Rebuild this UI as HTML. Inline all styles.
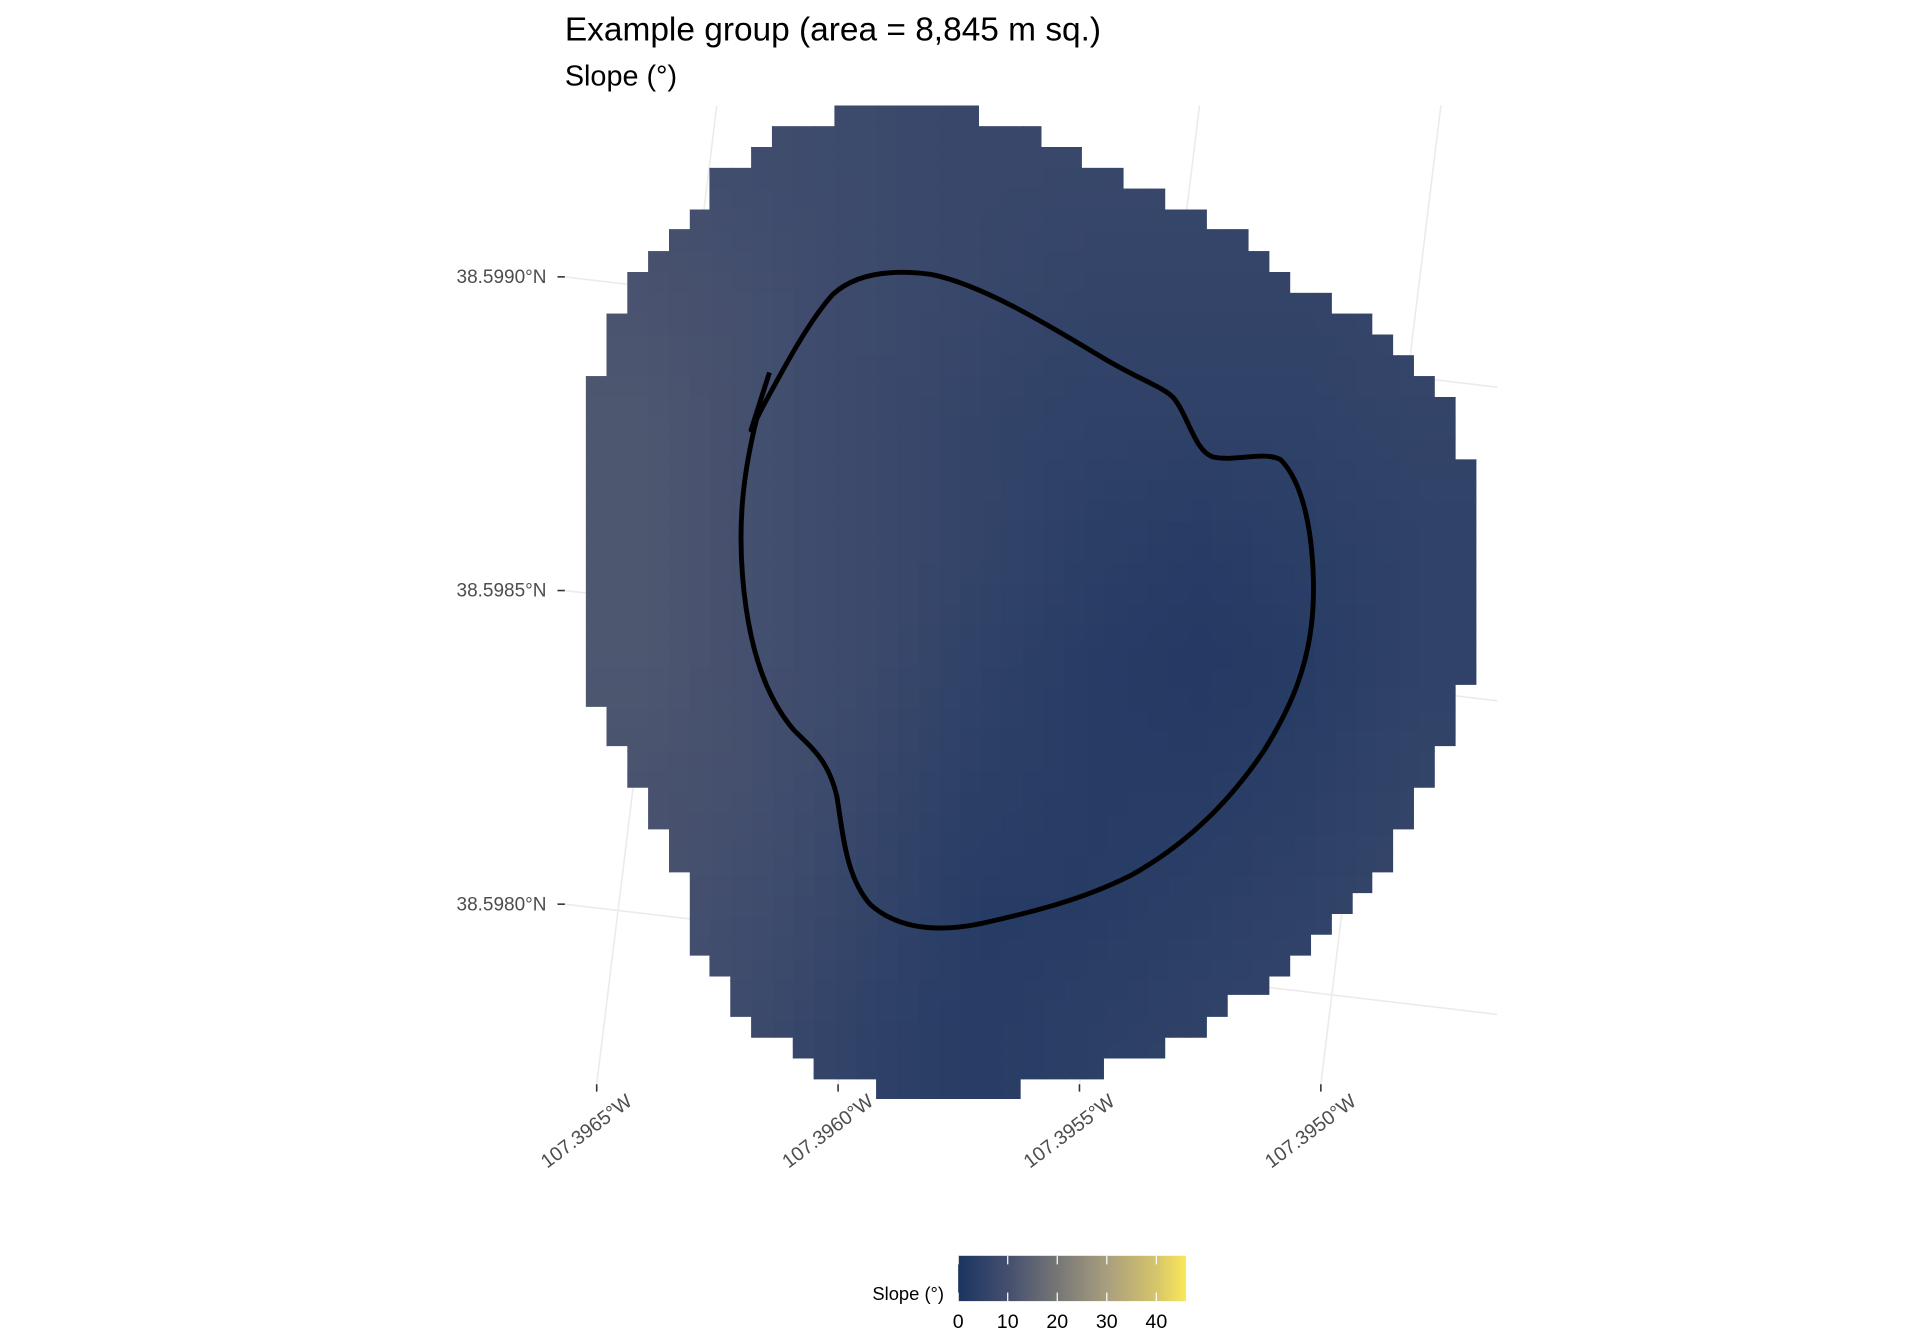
<!DOCTYPE html>
<html><head><meta charset="utf-8">
<style>
html,body{margin:0;padding:0;background:#fff;}
svg{display:block;}
text{font-family:"Liberation Sans",Arial,sans-serif;}
</style></head>
<body>
<svg id="chart" width="1920" height="1344" viewBox="0 0 1567 1097" preserveAspectRatio="none" xmlns="http://www.w3.org/2000/svg">
<defs>
  <clipPath id="rasterClip"><polygon id="outlinePoly" points=""/></clipPath>
  <linearGradient id="cbar" x1="0" x2="1" y1="0" y2="0">
    <stop offset="0" stop-color="#1b3461"/>
    <stop offset="0.217" stop-color="#444f6e"/>
    <stop offset="0.435" stop-color="#767676"/>
    <stop offset="0.652" stop-color="#a89e7e"/>
    <stop offset="0.87" stop-color="#d6c56a"/>
    <stop offset="1" stop-color="#fbe85a"/>
  </linearGradient>
</defs>
<g id="grid"></g>
<g id="raster" clip-path="url(#rasterClip)"><g id="cells"></g></g>
<path id="boundary" fill="none" stroke="#000" stroke-width="4" stroke-linejoin="round"
 d="M628,304 L613,351 L622,333 C640,300 660,262 680,240 C700,222 730,220 760,224 C800,232 850,262 900,292 C930,310 950,316 958,325 C970,340 975,368 990,373 C1010,377 1030,368 1045,375 C1065,395 1072,440 1072,482 C1072,540 1052,580 1032,612 C1000,660 962,693 922,715 C882,735 840,745 800,754 C760,762 730,756 710,738 C690,715 688,680 683,650 C676,620 662,610 648,596 C622,566 610,520 606,470 C602,420 608,380 618,340"/>
<g id="axes"></g>
<text x="461" y="33" font-size="27.3" fill="#000">Example group (area = 8,845 m sq.)</text>
<text x="461" y="70" font-size="23.5" fill="#000">Slope (°)</text>
<g id="legend"></g>
</svg>
<script>
// ---- data ----
const latTicks = ["38.5990°N","38.5985°N","38.5980°N"];
const latTickY = [226, 482, 738];
const lonTicks = ["107.3965°W","107.3960°W","107.3955°W","107.3950°W"];
const lonTickX = [487, 684, 881, 1078];
const legendTicks = [0, 10, 20, 30, 40];
const legendMax = 46;
// slope values (degrees) on coarse grid, rows top->bottom, cols left->right
const slopeRow0 = [10, 9, 8, 7, 7, 7, 7, 7];
const slopeRow1 = [11, 10, 8, 7, 6, 6, 6, 7];
const slopeRow2 = [12, 10, 8, 6, 5, 5, 5, 6];
const slopeRow3 = [12, 10, 8, 6, 4, 3, 4, 5];
const slopeRow4 = [12, 10, 8, 5, 3, 2, 3, 5];
const slopeRow5 = [11, 10, 7, 4, 3, 3, 4, 6];
const slopeRow6 = [11, 9, 6, 3, 3, 4, 5, 7];
const slopeRow7 = [10, 8, 5, 3, 4, 5, 6, 7];
const slopeRows = [slopeRow0,slopeRow1,slopeRow2,slopeRow3,slopeRow4,slopeRow5,slopeRow6,slopeRow7];

const NS="http://www.w3.org/2000/svg";
function mk(tag, attrs, parent){const e=document.createElementNS(NS,tag);for(const k in attrs)e.setAttribute(k,attrs[k]);parent.appendChild(e);return e;}

// raster extent & scales
const rx0=478, rx1=1205, ry0=86, ry1=897;
const nC=slopeRows[0].length, nR=slopeRows.length;
const cw=(rx1-rx0)/nC, ch=(ry1-ry0)/nR;
const stops=[[0,[27,52,97]],[10,[68,79,110]],[20,[118,118,118]],[30,[168,158,126]],[40,[214,197,106]],[46,[251,232,90]]];
function color(v){
  for(let i=0;i<stops.length-1;i++){const a=stops[i],b=stops[i+1];
    if(v<=b[0]){const t=(v-a[0])/(b[0]-a[0]);const c=a[1].map((x,k)=>Math.round(x+(b[1][k]-x)*t));return `rgb(${c[0]},${c[1]},${c[2]})`;}}
  return 'rgb(251,232,90)';
}
// display shading: sample coarse slope grid (bilinear for rendering only)
function sample(x,y){
  let fx=(x-rx0)/cw-0.5, fy=(y-ry0)/ch-0.5;
  fx=Math.max(0,Math.min(nC-1,fx)); fy=Math.max(0,Math.min(nR-1,fy));
  const i0=Math.floor(fx), j0=Math.floor(fy), i1=Math.min(nC-1,i0+1), j1=Math.min(nR-1,j0+1);
  const tx=fx-i0, ty=fy-j0;
  const a=slopeRows[j0][i0]*(1-tx)+slopeRows[j0][i1]*tx;
  const b=slopeRows[j1][i0]*(1-tx)+slopeRows[j1][i1]*tx;
  return a*(1-ty)+b*ty;
}
const cells=document.getElementById('cells');
const px=17;
for(let y=ry0;y<ry1;y+=px){for(let x=rx0;x<rx1;x+=px){
  const r=mk('rect',{x:x,y:y,width:px+0.6,height:px+0.6,fill:color(sample(x+px/2,y+px/2))},cells);
  
  
}}

// outline polygon (stepped raster edge)
const outline=[[681,86],[799,86],[799,103],[850,103],[850,120],[883,120],[883,137],[917,137],[917,154],[951,154],[951,171],[985,171],[985,187],[1019,187],[1019,205],[1036,205],[1036,222],[1053,222],[1053,239],[1087,239],[1087,256],[1120,256],[1120,273],[1137,273],[1137,290],[1154,290],[1154,307],[1171,307],[1171,324],[1188,324],[1188,375],[1205,375],[1205,559],[1188,559],[1188,609],[1171,609],[1171,643],[1154,643],[1154,677],[1137,677],[1137,712],[1120,712],[1120,729],[1104,729],[1104,746],[1087,746],[1087,763],[1070,763],[1070,780],[1053,780],[1053,797],[1036,797],[1036,812],[1002,812],[1002,830],[985,830],[985,847],[951,847],[951,864],[901,864],[901,881],[833,881],[833,897],[715,897],[715,881],[664,881],[664,864],[647,864],[647,847],[613,847],[613,830],[596,830],[596,797],[579,797],[579,780],[563,780],[563,712],[546,712],[546,677],[529,677],[529,643],[512,643],[512,609],[495,609],[495,577],[478,577],[478,307],[495,307],[495,256],[512,256],[512,222],[529,222],[529,205],[546,205],[546,187],[563,187],[563,171],[579,171],[579,137],[613,137],[613,120],[630,120],[630,103],[681,103]];
document.getElementById('outlinePoly').setAttribute('points', outline.map(p=>p.join(',')).join(' '));

// graticule
const grid=document.getElementById('grid');
latTickY.forEach(y=>{
  const l=mk('line',{x1:461,y1:y,x2:1222,y2:y+90,stroke:'#ebebeb','stroke-width':1.3},grid);
  
  
});
lonTickX.forEach(x=>{
  const l=mk('line',{x1:x,y1:885,x2:x+98,y2:86,stroke:'#ebebeb','stroke-width':1.3},grid);
  
  
});

// axes
const axes=document.getElementById('axes');
latTicks.forEach((lab,i)=>{
  const y=latTickY[i];
  const t=mk('line',{x1:455,y1:y,x2:461,y2:y,stroke:'#333','stroke-width':1.3},axes);
  
  
  const tx=mk('text',{x:446,y:y+5,'font-size':15.5,'text-anchor':'end',fill:'#4d4d4d'},axes);
  tx.textContent=lab;
  
  
});
lonTicks.forEach((lab,i)=>{
  const x=lonTickX[i];
  const t=mk('line',{x1:x,y1:885,x2:x,y2:891,stroke:'#333','stroke-width':1.3},axes);
  
  
  const ax=x+30, ay=901;
  const tx=mk('text',{x:ax,y:ay,'font-size':16,'text-anchor':'end',fill:'#4d4d4d',transform:`rotate(-37 ${ax} ${ay})`},axes);
  tx.textContent=lab;
  
  
});

// legend
const lg=document.getElementById('legend');
const cbx0=782, cbx1=968, cby0=1025, cby1=1062;
const lx = v => cbx0 + v*(cbx1-cbx0)/legendMax;
const bar=mk('rect',{x:cbx0,y:cby0,width:cbx1-cbx0,height:cby1-cby0,fill:'url(#cbar)'},lg);


legendTicks.forEach(v=>{
  const x=lx(v);
  const a=mk('line',{x1:x,y1:cby0,x2:x,y2:cby0+7,stroke:'#fff','stroke-width':1},lg);
  
  
  const b=mk('line',{x1:x,y1:cby1-7,x2:x,y2:cby1,stroke:'#fff','stroke-width':1},lg);
  
  
  const tx=mk('text',{x:x,y:1084,'font-size':16,'text-anchor':'middle',fill:'#000'},lg);
  tx.textContent=String(v);
  
  
});
const lt=mk('text',{x:712,y:1061,'font-size':15,fill:'#000'},lg);
lt.textContent='Slope (°)';


</script>
</body></html>
